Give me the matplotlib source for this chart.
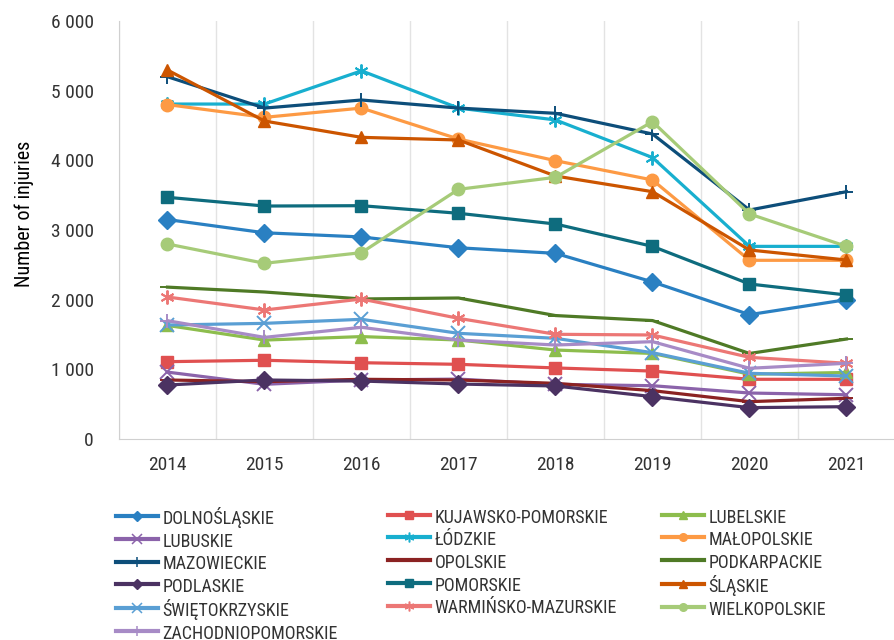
import matplotlib
matplotlib.use("Agg")
import matplotlib.pyplot as plt
from matplotlib.lines import Line2D
from matplotlib.ticker import FuncFormatter

plt.rcParams['font.family'] = ['Roboto Condensed', 'Liberation Sans Narrow', 'Roboto', 'DejaVu Sans']

years = ["2014", "2015", "2016", "2017", "2018", "2019", "2020", "2021"]

dolnoslaskie = [3150, 2960, 2900, 2745, 2665, 2255, 1785, 2000]
kujawsko_pomorskie = [1110, 1130, 1095, 1072, 1020, 975, 857, 857]
lubelskie = [1630, 1420, 1470, 1421, 1277, 1228, 930, 955]
lubuskie = [960, 785, 847, 860, 785, 765, 660, 635]
lodzkie = [4808, 4808, 5285, 4750, 4580, 4040, 2765, 2765]
malopolskie = [4800, 4617, 4750, 4306, 3995, 3718, 2565, 2565]
mazowieckie = [5200, 4750, 4866, 4750, 4675, 4378, 3287, 3550]
opolskie = [847, 823, 857, 847, 799, 694, 536, 584]
podkarpackie = [2180, 2110, 2010, 2024, 1772, 1700, 1228, 1435]
podlaskie = [775, 847, 832, 789, 761, 608, 450, 464]
pomorskie = [3469, 3344, 3349, 3240, 3086, 2765, 2225, 2067]
slaskie = [5296, 4564, 4330, 4292, 3775, 3550, 2713, 2569]
swietokrzyskie = [1636, 1660, 1718, 1517, 1445, 1239, 943, 904]
warminsko_mazurskie = [2038, 1852, 2009, 1732, 1503, 1493, 1172, 1087]
wielkopolskie = [2799, 2522, 2675, 3584, 3756, 4555, 3230, 2765]
zachodniopomorskie = [1698, 1459, 1603, 1421, 1349, 1397, 1015, 1087]

series = [
    ("DOLNOŚLĄSKIE", dolnoslaskie, "#2a80c2", "D"),
    ("KUJAWSKO-POMORSKIE", kujawsko_pomorskie, "#e05050", "s"),
    ("LUBELSKIE", lubelskie, "#8dbd4d", "^"),
    ("LUBUSKIE", lubuskie, "#8b63aa", "x"),
    ("ŁÓDZKIE", lodzkie, "#18afcf", (6, 2, 0)),
    ("MAŁOPOLSKIE", malopolskie, "#fd9a44", "o"),
    ("MAZOWIECKIE", mazowieckie, "#0d4e7a", "+"),
    ("OPOLSKIE", opolskie, "#8b2222", "_"),
    ("PODKARPACKIE", podkarpackie, "#4f7a26", "_"),
    ("PODLASKIE", podlaskie, "#4b3262", "D"),
    ("POMORSKIE", pomorskie, "#0e6c7e", "s"),
    ("ŚLĄSKIE", slaskie, "#cc5500", "^"),
    ("ŚWIĘTOKRZYSKIE", swietokrzyskie, "#5a9fd4", "x"),
    ("WARMIŃSKO-MAZURSKIE", warminsko_mazurskie, "#ec7775", (6, 2, 0)),
    ("WIELKOPOLSKIE", wielkopolskie, "#a6cb78", "o"),
    ("ZACHODNIOPOMORSKIE", zachodniopomorskie, "#a78bc6", "+"),
]

fig = plt.figure(figsize=(8.95, 6.4), dpi=100)
ax = fig.add_axes([119 / 895, 201 / 640, 1 - 119 / 895, 418 / 640])

proxies = []
for name, vals, col, mk in series:
    thin = mk in ("x", "+", (6, 2, 0), "_")
    ax.plot(range(len(years)), vals, color=col, lw=2.3, marker=mk,
            markersize=10 if thin else 9, markeredgewidth=1.4 if thin else 1,
            markerfacecolor=col, markeredgecolor=col)
    # mniejsze znaczniki w legendzie
    proxies.append(Line2D([], [], color=col, lw=3, marker=mk,
                          markersize=7 if thin else 5.5,
                          markeredgewidth=1.1 if thin else 1,
                          markerfacecolor=col, markeredgecolor=col, label=name))

ax.set_xlim(-0.5, 7.46)
ax.set_ylim(0, 6000)
ax.set_yticks(range(0, 6001, 1000))
ax.yaxis.set_major_formatter(FuncFormatter(lambda v, p: f"{v:,.0f}".replace(",", " ")))
ax.set_xticks(range(len(years)))
ax.set_xticklabels(years)
ax.set_xticks([i + 0.5 for i in range(-1, len(years))], minor=True)
ax.grid(which="minor", axis="x", color="#e3e3e3", lw=1)
ax.tick_params(which="both", length=0, labelsize=14, colors="#333333")
ax.tick_params(axis="y", pad=18)
ax.tick_params(axis="x", pad=12)
for s in ("top", "right"):
    ax.spines[s].set_visible(False)
for s in ("left", "bottom"):
    ax.spines[s].set_color("#d0d0d0")
ax.set_ylabel("Number of injuries", fontsize=14.5)
ax.yaxis.set_label_coords((34 - 119) / 776, (439 - 214) / 418)

# legenda w trzech kolumnach, wypełniana wierszami
cols_x = [116, 388, 662]
for c in range(3):
    hs = proxies[c::3]
    fig.legend(handles=hs, labels=[h.get_label() for h in hs], loc="upper left",
               bbox_to_anchor=(cols_x[c] / 895, 1 - 507 / 640), frameon=False,
               fontsize=13, labelspacing=0.17, handlelength=2.3, handletextpad=0.28,
               handleheight=1.25,
               borderpad=0, borderaxespad=0, labelcolor="#333333")

fig.savefig("out.png", dpi=100)
